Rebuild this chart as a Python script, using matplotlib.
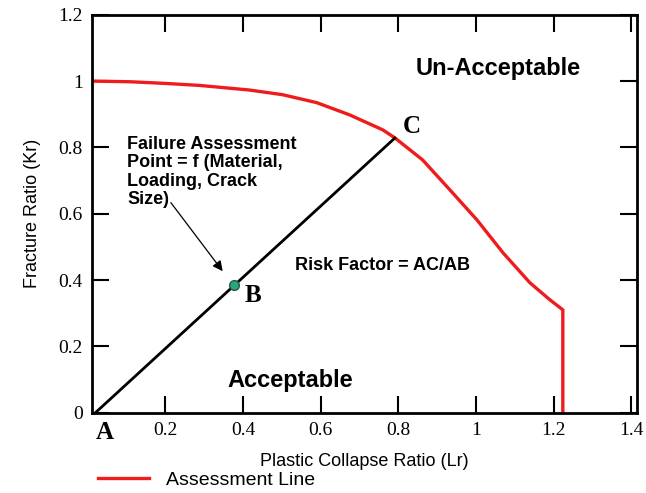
import numpy as np
import matplotlib.pyplot as plt

# assessment line (Lr, Kr)
lr_fad = [0.012, 0.11, 0.20, 0.288, 0.417, 0.502, 0.59, 0.675, 0.76, 0.791,
          0.863, 0.933, 1.003, 1.07, 1.139, 1.19, 1.224, 1.224]
kr_fad = [1.0, 0.998, 0.993, 0.987, 0.973, 0.959, 0.935, 0.898, 0.853, 0.829,
          0.762, 0.672, 0.581, 0.482, 0.392, 0.341, 0.31, 0.0]

# load line A -> C and assessment point B
pt_A = (0.02, 0.0)
pt_C = (0.791, 0.828)
pt_B = (0.378, 0.386)

yticks = [0, 0.2, 0.4, 0.6, 0.8, 1.0, 1.2]
yticklabels = ['0', '0.2', '0.4', '0.6', '0.8', '1', '1.2']
xticks = [0.2, 0.4, 0.6, 0.8, 1.0, 1.2, 1.4]
xticklabels = ['0.2', '0.4', '0.6', '0.8', '1', '1.2', '1.4']

serif = 'Liberation Serif'
sans = 'Liberation Sans'

fig = plt.figure(figsize=(6.46, 4.93), dpi=100)
ax = fig.add_axes([0.143, 0.163, 0.843, 0.807])

line_fad, = ax.plot(lr_fad, kr_fad, color='#ee1c1c', lw=2.4, label='Assessment Line')
ax.plot([pt_A[0], pt_C[0]], [pt_A[1], pt_C[1]], color='black', lw=2)
ax.plot(pt_B[0], pt_B[1], 'o', ms=7, mfc='#2fa37a', mec='#1d5c45', mew=1)

ax.set_xlim(0.012, 1.415)
ax.set_ylim(0, 1.2)
ax.set_xticks(xticks)
ax.set_xticklabels(xticklabels, family=serif, fontsize=14)
ax.set_yticks(yticks)
ax.set_yticklabels(yticklabels, family=serif, fontsize=14)
ax.tick_params(direction='in', length=12, width=1.5, top=True, right=True, pad=7)
for s in ax.spines.values():
    s.set_linewidth(2)

ax.set_xlabel('Plastic Collapse Ratio (Lr)', family=sans, fontsize=13, labelpad=10)
ax.set_ylabel('Fracture Ratio (Kr)', family=sans, fontsize=13, labelpad=12)

# annotations
ax.text(1.057, 1.037, 'Un-Acceptable', family=sans, weight='bold', fontsize=17,
        ha='center', va='center')
ax.text(0.522, 0.096, 'Acceptable', family=sans, weight='bold', fontsize=17,
        ha='center', va='center')
ax.text(0.76, 0.443, 'Risk Factor = AC/AB', family=sans, weight='bold', fontsize=13,
        ha='center', va='center')
ax.text(0.102, 0.835, 'Failure Assessment\nPoint = f (Material,\nLoading, Crack\nSize)',
        family=sans, weight='bold', fontsize=13, ha='left', va='top', linespacing=1.12)
ax.annotate('', xy=(0.352, 0.42), xytext=(0.21, 0.64),
            arrowprops=dict(arrowstyle='-|>', color='black', lw=0.9,
                            mutation_scale=15))
ax.text(0.836, 0.862, 'C', family=serif, weight='bold', fontsize=18, ha='center', va='center')
ax.text(0.427, 0.352, 'B', family=serif, weight='bold', fontsize=18, ha='center', va='center')
ax.text(0.043, -0.061, 'A', family=serif, weight='bold', fontsize=18, ha='center', va='center',
        clip_on=False)

fig.legend(handles=[line_fad], loc='center left', bbox_to_anchor=(0.125, 0.026),
           frameon=False, prop={'family': sans, 'size': 14}, handlelength=2.6,
           handletextpad=0.9)

fig.savefig('out.png', dpi=100)
